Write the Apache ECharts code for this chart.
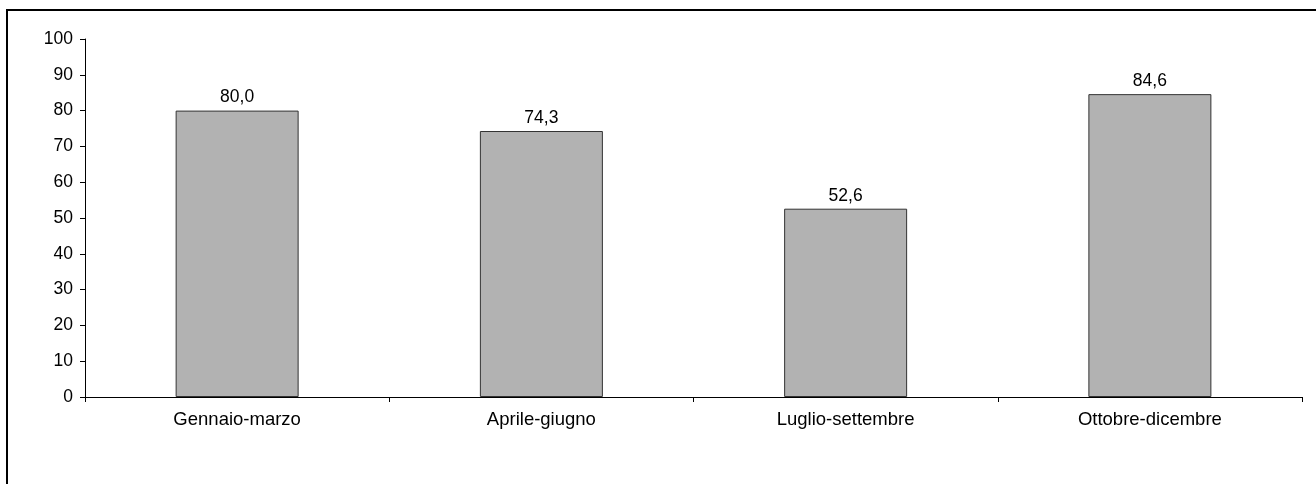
<!DOCTYPE html>
<html>
<head>
<meta charset="utf-8">
<script src="https://cdn.jsdelivr.net/npm/echarts@6/dist/echarts.min.js"></script>
<style>
  html, body { margin: 0; padding: 0; background: #fff; }
  #chart { width: 1316px; height: 484px; }
</style>
</head>
<body>
<div id="chart"></div>
<script>
// Quarterly values (percent)
const categories = ['Gennaio-marzo', 'Aprile-giugno', 'Luglio-settembre', 'Ottobre-dicembre'];
const values = [80.0, 74.3, 52.6, 84.6];
const yTicks = [0, 10, 20, 30, 40, 50, 60, 70, 80, 90, 100];

const FONT = 'Liberation Sans, Arial, sans-serif';
const chart = echarts.init(document.getElementById('chart'), null, { renderer: 'canvas' });

chart.setOption({
  backgroundColor: '#ffffff',
  animation: false,
  graphic: [{
    type: 'rect',
    shape: { x: 7, y: 10, width: 1330, height: 500 },
    style: { fill: 'none', stroke: '#000', lineWidth: 2 },
    z: -1
  }],
  grid: { left: 85, top: 39, right: 14, bottom: 87 },
  xAxis: {
    type: 'category',
    data: categories,
    boundaryGap: true,
    axisLine: { lineStyle: { color: '#000', width: 1 } },
    axisTick: { show: true, alignWithLabel: false, length: 5, lineStyle: { color: '#000' } },
    axisLabel: { color: '#000', fontFamily: FONT, fontSize: 18.5, margin: 13 },
    splitLine: { show: false }
  },
  yAxis: {
    type: 'value',
    min: yTicks[0],
    max: yTicks[yTicks.length - 1],
    interval: 10,
    axisLine: { show: true, lineStyle: { color: '#000', width: 1 } },
    axisTick: { show: true, length: 5, lineStyle: { color: '#000' } },
    axisLabel: { color: '#000', fontFamily: FONT, fontSize: 17.5, margin: 12 },
    splitLine: { show: false }
  },
  series: [{
    type: 'bar',
    data: values,
    barWidth: 123,
    itemStyle: { color: '#b2b2b2', borderColor: '#333', borderWidth: 1 },
    label: {
      show: true,
      position: 'top',
      distance: 4,
      color: '#000',
      fontFamily: FONT,
      fontSize: 17.5,
      formatter: p => p.value.toFixed(1).replace('.', ',')
    }
  }]
});
</script>
</body>
</html>
